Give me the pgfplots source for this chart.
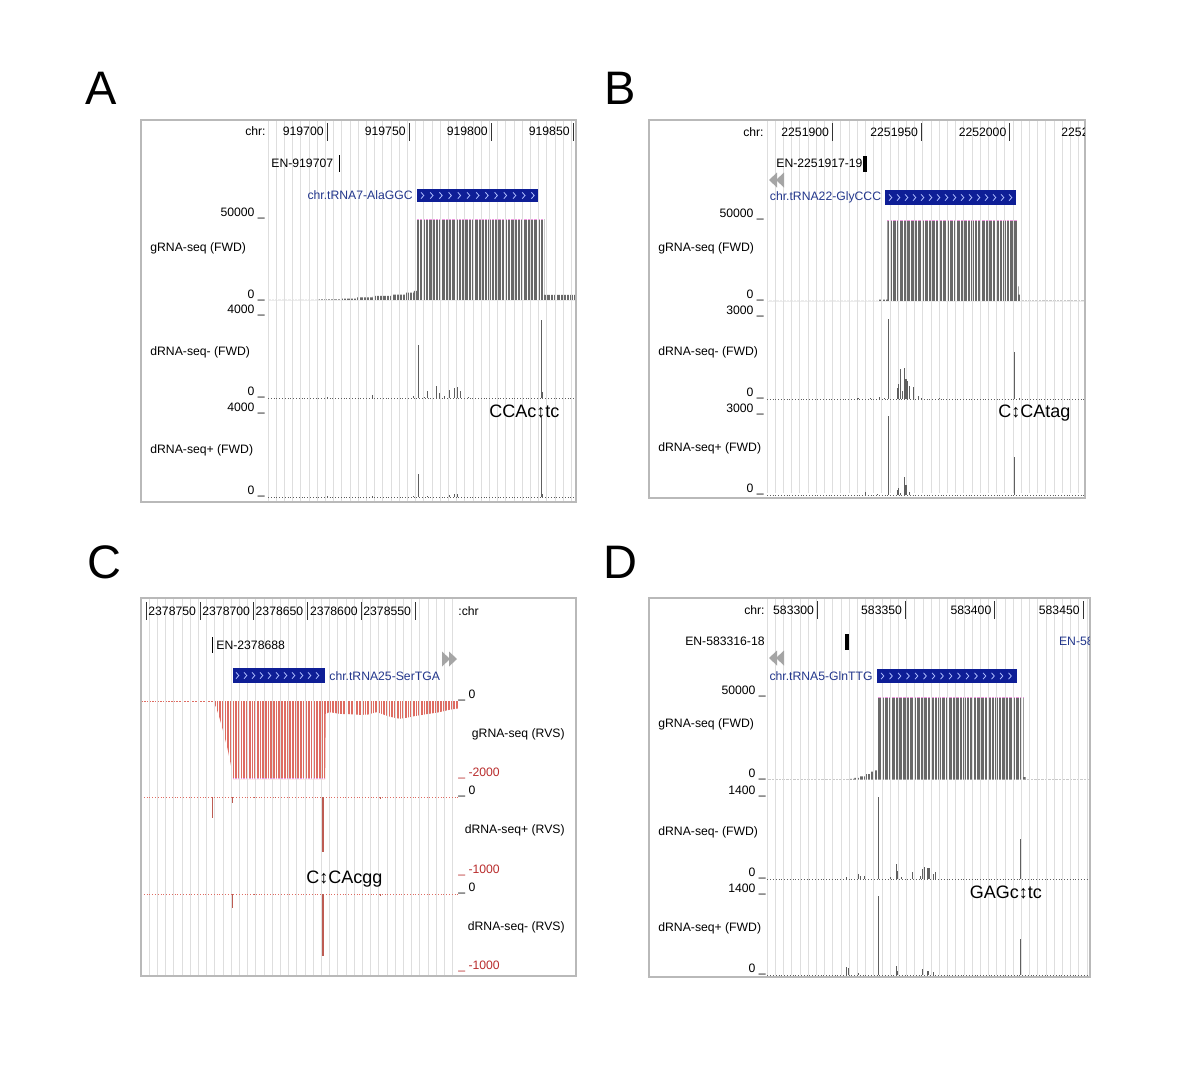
\documentclass[border=0pt]{standalone}
\usepackage{pgfplots}
\pgfplotsset{compat=1.18}
\usepackage{fontspec}
\setmainfont{Liberation Sans}
\definecolor{gridc}{RGB}{222,222,222}
\definecolor{framec}{RGB}{185,185,185}
\definecolor{barc}{RGB}{105,105,105}
\definecolor{spkc}{RGB}{95,95,95}
\definecolor{boxc}{RGB}{14,30,150}
\definecolor{chevc}{RGB}{175,190,255}
\definecolor{genec}{RGB}{35,55,140}
\definecolor{redbar}{RGB}{222,108,98}
\definecolor{redtxt}{RGB}{185,45,45}
\definecolor{satc}{RGB}{235,150,220}
\definecolor{arrc}{RGB}{165,165,165}
\newcommand\sm{\fontsize{6.1}{7.2}\selectfont}
\newcommand\ann{\fontsize{9}{10}\selectfont}
\pgfplotsset{
  bg/.style={scale only axis, anchor=north west, xmin=0, ymin=0, ymax=1,
    axis line style={draw=none}, tick style={draw=none}, ytick=\empty, yticklabels={},
    xtick distance=8.2, xticklabels={}, scaled ticks=false, xmajorgrids,
    major grid style={gridc, line width=0.5pt}},
  trk/.style={scale only axis, anchor=north west, axis line style={draw=none},
    xtick=\empty, ytick=\empty, xticklabels={}, yticklabels={}, clip=false},
  grna/.style={scale only axis, anchor=north west, axis line style={draw=none},
    tick style={draw=none}, ytick=\empty, yticklabels={}, xticklabels={}, scaled ticks=false,
    axis on top, xmajorgrids, major grid style={white, line width=0.35pt}},
  spk/.style={ycomb, spkc, line width=0.55pt},
  rspk/.style={ycomb, redbar!85!black, line width=0.55pt},
}
\begin{document}
\begin{tikzpicture}[x=0.5pt,y=-0.5pt]
\fill[white] (0,0) rectangle (1200,1067);
% panel letters
\node[anchor=base, inner sep=0] at (101,104) {\fontsize{23.5}{26}\selectfont A};
\node[anchor=base, inner sep=0] at (620,104) {\fontsize{23.5}{26}\selectfont B};
\node[anchor=base, inner sep=0] at (104,578) {\fontsize{23.5}{26}\selectfont C};
\node[anchor=base, inner sep=0] at (620,578) {\fontsize{23.5}{26}\selectfont D};

%================ PANEL A =================
% gRNA-seq (FWD), x = position - 919700
\begin{axis}[grna, at={(134pt,-109.5pt)}, width=154pt, height=40.5pt, xmin=-36, xmax=151.8, ymin=0, ymax=50000, xtick distance=2]
\addplot[const plot mark left, fill=barc, draw=none] coordinates {(-36,150) (-5,350) (8,800) (18,1600) (28,2500) (40,3300) (48,4500) (53,5600) (55,50000) (132.5,3100) (151.8,3100)} \closedcycle;
\addplot[satc, line width=0.6pt] coordinates {(55,49500) (132.5,49500)};
\end{axis}
\begin{axis}[bg, at={(134pt,-60.5pt)}, width=154pt, height=190pt, xmax=308]
\addplot[draw=none] coordinates {(0,0) (1,1)};
\end{axis}
\begin{axis}[trk, at={(134pt,-158pt)}, width=154pt, height=41pt, xmin=-36, xmax=151.8, ymin=0, ymax=4000]
\addplot[spkc, densely dotted, line width=0.4pt] coordinates {(-36,0) (151.8,0)};
\addplot[spk] coordinates {(0.5,50) (27.5,130) (52.5,80) (55.5,2600) (59.5,60) (61.5,360) (66.5,580) (68.5,250) (71.5,80) (74.5,410) (77.5,470) (79.5,540) (81.5,330) (86.5,40) (130.5,3800) (131.5,300)};
\end{axis}
\begin{axis}[trk, at={(134pt,-207pt)}, width=154pt, height=41.5pt, xmin=-36, xmax=151.8, ymin=0, ymax=4000]
\addplot[spkc, densely dotted, line width=0.4pt] coordinates {(-36,0) (151.8,0)};
\addplot[spk] coordinates {(0.5,40) (27.5,40) (52.5,40) (55.5,1130) (61.5,60) (74.5,100) (77.5,150) (79.5,130) (130.5,3900) (131.5,130)};
\end{axis}
\draw[framec, line width=0.6pt] (141,120) rectangle (576,502);
\node[anchor=east, inner sep=0] at (266,131) {\sm chr:};
\foreach \b/\t in {327/919700,409/919750,491/919800,573/919850}{
  \node[anchor=east, inner sep=0] at (\b-3,131) {\sm \t};
  \draw[black!80, line width=0.45pt] (\b,123) -- (\b,141);}
\node[anchor=west, inner sep=0] at (271,163) {\sm EN-919707};
\draw[black, line width=0.5pt] (339,155) -- (339,172);
\fill[boxc] (416.7,189) rectangle (538,202);
\foreach \i in {0,...,12}{\draw[chevc, line width=0.4pt] ({421+\i*9.2},192.3) -- ++(2.8,3.2) -- ++(-2.8,3.2);}
\node[anchor=east, inner sep=0] at (413,195.5) {\sm\color{genec} chr.tRNA7-AlaGGC};
\foreach \y/\t in {216.5/50000,298/0,313.5/4000,395.5/0,411.5/4000,494.5/0}{
  \node[anchor=base east, inner sep=0] at (265,\y) {\sm \t\ \_};}
\node[anchor=west, inner sep=0] at (150,248) {\sm gRNA-seq (FWD)};
\node[anchor=west, inner sep=0] at (150,352) {\sm dRNA-seq- (FWD)};
\node[anchor=west, inner sep=0] at (150,450) {\sm dRNA-seq+ (FWD)};
\node[anchor=west, inner sep=0] at (489,411.5) {\ann CCAc↕tc};

%================ PANEL B =================
% x = position - 2251900
\begin{axis}[grna, at={(383.5pt,-110pt)}, width=159pt, height=40.5pt, xmin=-36.8, xmax=142.4, ymin=0, ymax=50000, xtick distance=2]
\addplot[const plot mark left, fill=barc, draw=none] coordinates {(-36.8,100) (26,900) (31,50000) (104,9000) (105,4000) (106,200) (142.4,200)} \closedcycle;
\addplot[satc, line width=0.6pt] coordinates {(31,49500) (104,49500)};
\end{axis}
\begin{axis}[bg, at={(383.5pt,-60.5pt)}, width=159pt, height=186pt, xmax=318]
\addplot[draw=none] coordinates {(0,0) (1,1)};
\end{axis}
\begin{axis}[trk, at={(383.5pt,-158.5pt)}, width=159pt, height=41pt, xmin=-36.8, xmax=142.4, ymin=0, ymax=3000]
\addplot[spkc, densely dotted, line width=0.4pt] coordinates {(-36.8,0) (142.4,0)};
\addplot[spk] coordinates {(14.5,40) (21.5,40) (26.5,60) (29.5,30) (31.5,2930) (36.5,390) (37.5,550) (38.5,1100) (39.5,300) (40.5,1120) (41.5,730) (42.5,660) (43.5,490) (45.5,430) (48.5,100) (50.5,40) (60.5,30) (102.5,1710) (105.5,30)};
\end{axis}
\begin{axis}[trk, at={(383.5pt,-207.5pt)}, width=159pt, height=40pt, xmin=-36.8, xmax=142.4, ymin=0, ymax=3000]
\addplot[spkc, densely dotted, line width=0.4pt] coordinates {(-36.8,0) (142.4,0)};
\addplot[spk] coordinates {(18.5,100) (25.5,40) (31.5,2960) (36.5,190) (37.5,250) (38.5,60) (40.5,690) (41.5,375) (43.5,125) (102.5,1410)};
\end{axis}
\draw[framec, line width=0.6pt] (649,120) rectangle (1085,498);
\node[anchor=east, inner sep=0] at (764,132) {\sm chr:};
\foreach \b/\t in {832.3/2251900,921.3/2251950,1009.7/2252000}{
  \node[anchor=east, inner sep=0] at (\b-3,132) {\sm \t};
  \draw[black!80, line width=0.45pt] (\b,123) -- (\b,141);}
\begin{scope}
\clip (649,120) rectangle (1084,498);
\node[anchor=west, inner sep=0] at (1061,132) {\sm 2252050};
\end{scope}
\node[anchor=west, inner sep=0] at (776,163) {\sm EN-2251917-19};
\fill[black] (863,156) rectangle (866.5,172);
\fill[arrc] (769,180) -- (777,172.5) -- (777,187.5) -- cycle;
\fill[arrc] (776,180) -- (784,172.5) -- (784,187.5) -- cycle;
\fill[boxc] (885,190) rectangle (1016,205);
\foreach \i in {0,...,15}{\draw[chevc, line width=0.4pt] ({889+\i*8},194.3) -- ++(2.8,3.2) -- ++(-2.8,3.2);}
\node[anchor=east, inner sep=0] at (881.5,197.5) {\sm\color{genec} chr.tRNA22-GlyCCC};
\foreach \y/\t in {217.5/50000,298.5/0,314.5/3000,396.5/0,412.5/3000,492.5/0}{
  \node[anchor=base east, inner sep=0] at (764,\y) {\sm \t\ \_};}
\node[anchor=west, inner sep=0] at (658,248) {\sm gRNA-seq (FWD)};
\node[anchor=west, inner sep=0] at (658,352) {\sm dRNA-seq- (FWD)};
\node[anchor=west, inner sep=0] at (658,448) {\sm dRNA-seq+ (FWD)};
\node[anchor=west, inner sep=0] at (998,413) {\ann C↕CAtag};

%================ PANEL C =================
% x = position - 2378750 (reverse strand, shown right to left)
\begin{axis}[grna, at={(70.5pt,-350.5pt)}, width=158.65pt, height=39pt, x dir=reverse, xmin=-290.2, xmax=4.6, ymin=-2000, ymax=0, xtick distance=2.5]
\addplot[fill=redbar, draw=none] coordinates {(4.6,0) (-62,0) (-65,-150) (-68,-400) (-72,-800) (-76,-1250) (-79,-1650) (-81,-2000) (-166.5,-2000) (-167,-330) (-170,-290) (-174,-300) (-180,-330) (-190,-340) (-200,-355) (-207,-345) (-212,-300) (-215,-285) (-219,-330) (-225,-390) (-231,-430) (-236,-455) (-242,-430) (-250,-385) (-260,-340) (-272,-290) (-282,-225) (-290.2,-190)} \closedcycle;
\addplot[redbar, line width=0.5pt] coordinates {(4.6,-10) (-62,-10)};
\addplot[satc, line width=0.6pt] coordinates {(-81,-1980) (-166.5,-1980)};
\end{axis}
\begin{axis}[bg, at={(70.5pt,-299.5pt)}, width=158.65pt, height=188pt, xmax=317.3]
\addplot[draw=none] coordinates {(0,0) (1,1)};
\end{axis}
\begin{axis}[trk, at={(70.5pt,-398.5pt)}, width=158.65pt, height=39.5pt, x dir=reverse, xmin=-290.2, xmax=4.6, ymin=-1000, ymax=0]
\addplot[redbar, densely dotted, line width=0.4pt] coordinates {(4.6,0) (-290.2,0)};
\addplot[rspk] coordinates {(-61.5,-270) (-80.5,-80) (-100.5,-8) (-120.5,-8) (-164.5,-690) (-217.5,-25)};
\end{axis}
\begin{axis}[trk, at={(70.5pt,-447pt)}, width=158.65pt, height=39pt, x dir=reverse, xmin=-290.2, xmax=4.6, ymin=-1000, ymax=0]
\addplot[redbar, densely dotted, line width=0.4pt] coordinates {(4.6,0) (-290.2,0)};
\addplot[rspk] coordinates {(-80.5,-180) (-100.5,-8) (-164.5,-790) (-217.5,-25)};
\end{axis}
\draw[framec, line width=0.6pt] (141,598) rectangle (576,976);
\foreach \b/\t in {146/2378750,200/2378700,253.3/2378650,307.7/2378600,361/2378550}{
  \node[anchor=west, inner sep=0] at (\b+2,611) {\sm \t};
  \draw[black!80, line width=0.45pt] (\b,602) -- (\b,620);}
\draw[black!80, line width=0.45pt] (415,602) -- (415,620);
\node[anchor=west, inner sep=0] at (458,611) {\sm :chr};
\node[anchor=west, inner sep=0] at (216,645) {\sm EN-2378688};
\draw[black, line width=0.5pt] (212.7,637) -- (212.7,653);
\fill[arrc] (457,659) -- (449,651.5) -- (449,666.5) -- cycle;
\fill[arrc] (450,659) -- (442,651.5) -- (442,666.5) -- cycle;
\fill[boxc] (233,668) rectangle (325,683);
\foreach \i in {0,...,10}{\draw[chevc, line width=0.4pt] ({236+\i*8},672.3) -- ++(2.8,3.2) -- ++(-2.8,3.2);}
\node[anchor=west, inner sep=0] at (329,676) {\sm\color{genec} chr.tRNA25-SerTGA};
\foreach \y/\t in {698/0,794/0,891/0}{
  \node[anchor=base west, inner sep=0] at (458,\y) {\sm \_ \t};}
\foreach \y/\t in {776.5/-2000,873.5/-1000,969.5/-1000}{
  \node[anchor=base west, inner sep=0] at (458,\y) {\sm\color{redtxt} \_ \t};}
\node[anchor=east, inner sep=0] at (565,734) {\sm gRNA-seq (RVS)};
\node[anchor=east, inner sep=0] at (565,830) {\sm dRNA-seq+ (RVS)};
\node[anchor=east, inner sep=0] at (565,927) {\sm dRNA-seq- (RVS)};
\node[anchor=west, inner sep=0] at (306,879) {\ann C↕CAcgg};

%================ PANEL D =================
% x = position - 583300
\begin{axis}[grna, at={(383.65pt,-348.5pt)}, width=161.35pt, height=41.3pt, xmin=-28.2, xmax=153.9, ymin=0, ymax=50000, xtick distance=2]
\addplot[const plot mark left, fill=barc, draw=none] coordinates {(-28.2,100) (18,400) (21,1000) (24,2000) (27,3300) (30,4800) (32,5600) (34,50000) (116.5,1500) (117.5,150) (153.9,150)} \closedcycle;
\addplot[satc, line width=0.6pt] coordinates {(34,49500) (116.5,49500)};
\end{axis}
\begin{axis}[bg, at={(383.65pt,-299.5pt)}, width=161.35pt, height=188pt, xmax=322.7]
\addplot[draw=none] coordinates {(0,0) (1,1)};
\end{axis}
\begin{axis}[trk, at={(383.65pt,-398.35pt)}, width=161.35pt, height=41.1pt, xmin=-28.2, xmax=153.9, ymin=0, ymax=1400]
\addplot[spkc, densely dotted, line width=0.4pt] coordinates {(-28.2,0) (153.9,0)};
\addplot[spk] coordinates {(16.5,30) (23.5,80) (24.5,57) (26.5,45) (34.5,1390) (41.5,25) (44.5,255) (45.5,140) (47.5,40) (53.5,125) (58.5,57) (59.5,170) (60.5,210) (62.5,190) (63.5,190) (65.5,85) (66.5,125) (114.5,675)};
\end{axis}
\begin{axis}[trk, at={(383.65pt,-447.5pt)}, width=161.35pt, height=40pt, xmin=-28.2, xmax=153.9, ymin=0, ymax=1400]
\addplot[spkc, densely dotted, line width=0.4pt] coordinates {(-28.2,0) (153.9,0)};
\addplot[spk] coordinates {(16.5,135) (17.5,120) (23.5,30) (34.5,1390) (44.5,160) (45.5,70) (59.5,100) (62.5,70) (65.5,45) (114.5,625)};
\end{axis}
\draw[framec, line width=0.6pt] (649,598) rectangle (1090,977);
\node[anchor=east, inner sep=0] at (765,610) {\sm chr:};
\foreach \b/\t in {817.3/583300,905.3/583350,994.7/583400,1083/583450}{
  \node[anchor=east, inner sep=0] at (\b-3,610) {\sm \t};
  \draw[black!80, line width=0.45pt] (\b,601) -- (\b,619);}
\node[anchor=east, inner sep=0] at (765,641) {\sm EN-583316-18};
\fill[black] (845,634) rectangle (849,650);
\begin{scope}
\clip (649,598) rectangle (1089,977);
\node[anchor=west, inner sep=0] at (1058.7,641) {\sm\color{genec} EN-583316};
\end{scope}
\fill[arrc] (769,658) -- (777,650.5) -- (777,665.5) -- cycle;
\fill[arrc] (776,658) -- (784,650.5) -- (784,665.5) -- cycle;
\fill[boxc] (877,669) rectangle (1017,683);
\foreach \i in {0,...,15}{\draw[chevc, line width=0.4pt] ({881+\i*8.5},672.8) -- ++(2.8,3.2) -- ++(-2.8,3.2);}
\node[anchor=east, inner sep=0] at (873,676) {\sm\color{genec} chr.tRNA5-GlnTTG};
\foreach \y/\t in {694.5/50000,777/0,794/1400,876.5/0,892.5/1400,972.5/0}{
  \node[anchor=base east, inner sep=0] at (766,\y) {\sm \t\ \_};}
\node[anchor=west, inner sep=0] at (658,724) {\sm gRNA-seq (FWD)};
\node[anchor=west, inner sep=0] at (658,832) {\sm dRNA-seq- (FWD)};
\node[anchor=west, inner sep=0] at (658,928) {\sm dRNA-seq+ (FWD)};
\node[anchor=west, inner sep=0] at (969.5,892.7) {\ann GAGc↕tc};
\end{tikzpicture}
\end{document}
